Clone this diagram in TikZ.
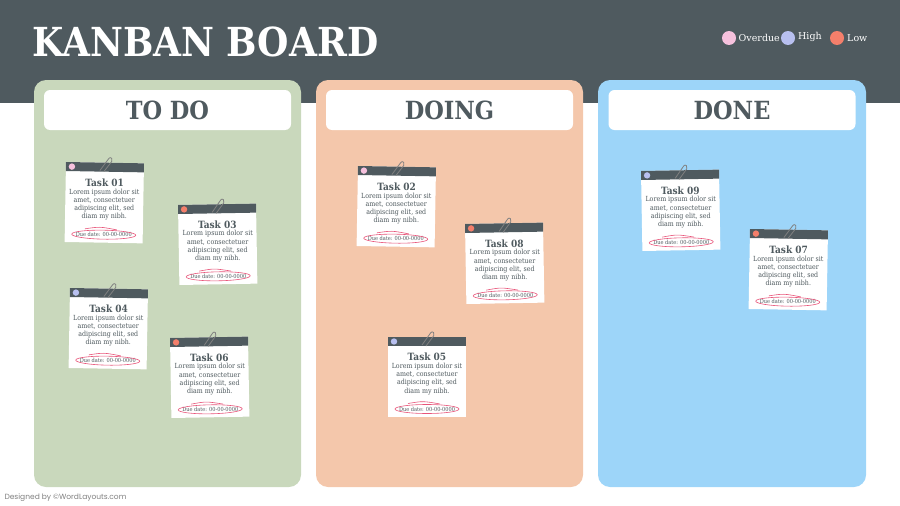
\documentclass[tikz,border=0pt]{standalone}
\usepackage{fontspec}
\setmainfont{DejaVu Serif}
\newfontfamily\condf{DejaVu Serif Condensed}
\newfontfamily\sansf{Poppins}
\definecolor{hdr}{HTML}{4F5A5F}
\definecolor{todo}{HTML}{C9D8BC}
\definecolor{doing}{HTML}{F4C7AB}
\definecolor{done}{HTML}{9DD5F9}
\definecolor{cpink}{HTML}{F6C1DD}
\definecolor{chigh}{HTML}{B8C0F0}
\definecolor{clow}{HTML}{F47F6B}
\definecolor{ring}{HTML}{E8557A}
\tikzset{x=1pt,y=-1pt,
 col/.style={rounded corners=12pt},
 ttl/.style={fill=white,rounded corners=6pt,minimum width=247pt,minimum height=40pt,font=\condf\bfseries\fontsize{25}{25}\selectfont,text=hdr},
 body/.style={font=\condf\fontsize{7}{8.2}\selectfont,text=hdr,align=center},
 tname/.style={font=\condf\bfseries\fontsize{10}{10}\selectfont,text=hdr},
 due/.style={font=\condf\fontsize{5.6}{5.6}\selectfont,text=hdr,inner sep=0.5pt},
 ringst/.style={draw=ring,line width=0.6pt},
 leg/.style={font=\fontsize{9.5}{9.5}\selectfont,text=white,anchor=west,inner sep=0pt}}
\newcommand\note[5]{%
 \begin{scope}[shift={(#1,#2)},rotate=#5]
 \fill[white] (0,0) rectangle (78,80);
 \fill[hdr] (0,0) rectangle (78,9);
 \fill[#4] (6,4.5) circle (3.2);
 \draw[gray,line width=0.8pt,rounded corners=2pt] (34,8) -- (44,-6) -- (47,-3) -- (38,9);
 \node[tname] (t#3) at (39,20) {Task #3};
 \node[body] (b#3) at (39,42) {Lorem ipsum dolor sit\\amet, consectetuer\\adipiscing elit, sed\\diam my nibh.};
 \node[due] (d#3) at (39,72) {Due date: 00-00-0000};
 \draw[ringst] (d#3.center) ellipse [x radius=32, y radius=4.5];
 \draw[ringst] (20,66.5) .. controls (35,64) .. (52,67);
 \end{scope}}
\begin{document}
\begin{tikzpicture}
\useasboundingbox (0,0) rectangle (900,506);
\fill[hdr] (0,0) rectangle (900,103);
\node[anchor=west,text=white,font=\condf\bfseries\fontsize{40}{40}\selectfont] (title) at (29,42) {KANBAN BOARD};
\fill[cpink] (729,38) circle (7); \node[leg] (l1) at (738.5,38) {Overdue};
\fill[chigh] (788,38) circle (7); \node[leg] (l2) at (798,37) {High};
\fill[clow] (837,38) circle (7); \node[leg] (l3) at (847,38) {Low};
\fill[todo,col] (34,80) rectangle (301,487);
\fill[doing,col] (316,80) rectangle (583,487);
\fill[done,col] (598,80) rectangle (866,487);
\node[ttl] (c1) at (167.5,110) {TO DO};
\node[ttl] (c2) at (449.5,110) {DOING};
\node[ttl] (c3) at (732,110) {DONE};
\note{66}{162}{01}{cpink}{-1}
\note{178}{205}{03}{clow}{1}
\note{70}{288}{04}{chigh}{-1}
\note{170}{338}{06}{clow}{1}
\note{358}{166}{02}{cpink}{-1}
\note{465}{224}{08}{clow}{1}
\note{388}{337}{05}{chigh}{0}
\note{641}{171}{09}{chigh}{1}
\note{750}{229}{07}{clow}{-1}
\node[anchor=west,text=gray,font=\sansf\fontsize{7.5}{7.5}\selectfont] (foot) at (1,498) {Designed by ©WordLayouts.com};
\end{tikzpicture}
\end{document}
